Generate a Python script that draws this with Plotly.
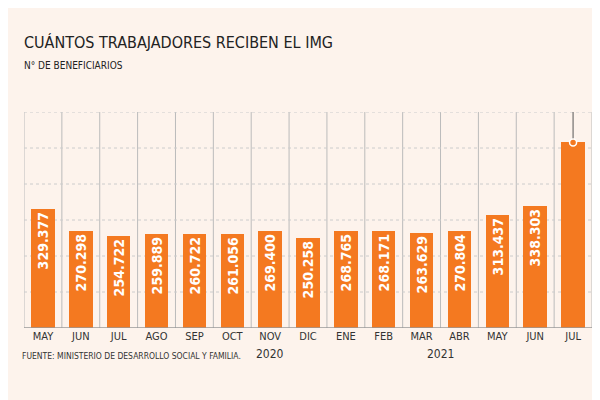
import plotly.graph_objects as go

months = ["MAY","JUN","JUL","AGO","SEP","OCT","NOV","DIC","ENE","FEB","MAR","ABR","MAY","JUN","JUL"]
values = [329377,270298,254722,259889,260722,261056,269400,250258,268765,268171,263629,270804,313437,338303,515342]
labels = ["329.377","270.298","254.722","259.889","260.722","261.056","269.400","250.258","268.765","268.171","263.629","270.804","313.437","338.303",""]
years = [("2020", 6), ("2021", 10.5)]

ORANGE = "#f47920"
BG = "#fdf3ec"
FONT = "DejaVu Sans Condensed"
x = list(range(len(months)))

fig = go.Figure(go.Bar(
    x=x, y=values, width=0.62, marker_color=ORANGE, marker_line_width=0,
    text=labels, textposition="inside", insidetextanchor="end", textangle=-90,
    textfont=dict(color="white", size=14, family=FONT, weight="bold"), cliponaxis=False,
))
fig.add_trace(go.Scatter(x=[x[-1], x[-1]], y=[values[-1], 610000], mode="lines",
                         line=dict(color="#555", width=1), hoverinfo="skip", cliponaxis=False))
fig.add_trace(go.Scatter(x=[x[-1]], y=[values[-1]], mode="markers",
                         marker=dict(color=ORANGE, size=7, line=dict(color="white", width=1.5)), hoverinfo="skip"))
fig.add_annotation(x=x[-1] + 0.5, y=610000, yanchor="bottom", xanchor="right", text="<b>515.342</b>",
                   showarrow=False, font=dict(color=ORANGE, size=20, family=FONT))

shapes = []
for i in range(len(months) + 1):
    shapes.append(dict(type="line", xref="x", yref="y", x0=i - 0.5, x1=i - 0.5, y0=0, y1=600000,
                       line=dict(color="#bbb", width=1), layer="below"))
for v in range(100000, 700000, 100000):
    shapes.append(dict(type="line", xref="x", yref="y", x0=-0.5, x1=len(months) - 0.5, y0=v, y1=v,
                       line=dict(color="#ccc", width=1, dash="dot"), layer="below"))
shapes.append(dict(type="line", xref="x", yref="y", x0=-0.5, x1=len(months) - 0.5, y0=0, y1=0,
                   line=dict(color="#999", width=1.5)))

for t, px in years:
    fig.add_annotation(x=px, y=-0.16, yref="paper", text=t, showarrow=False,
                       font=dict(size=12, color="#333", family=FONT))
fig.add_annotation(x=-0.5, xanchor="left", y=-0.16, yref="paper",
                   text="FUENTE: MINISTERIO DE DESARROLLO SOCIAL Y FAMILIA.", showarrow=False,
                   font=dict(size=8.5, color="#333", family=FONT), xshift=-4)

fig.update_layout(
    width=600, height=400, paper_bgcolor=BG, plot_bgcolor=BG, showlegend=False,
    margin=dict(l=16, r=16, t=104, b=80, autoexpand=False), shapes=shapes, bargap=0,
    title=dict(text="CUÁNTOS TRABAJADORES RECIBEN EL IMG<br><span style='font-size:10px'>N° DE BENEFICIARIOS</span>",
               x=16/600, xanchor="left", y=0.9, yanchor="top",
               font=dict(size=16, color="#222", family=FONT)),
    xaxis=dict(tickvals=x, ticktext=months, range=[-0.5, len(months) - 0.5], showgrid=False,
               zeroline=False, showline=False, tickfont=dict(size=11, color="#333", family=FONT), ticks=""),
    yaxis=dict(range=[0, 600000], showgrid=False, zeroline=False, showticklabels=False, fixedrange=True),
)
fig.write_html("out.html")
